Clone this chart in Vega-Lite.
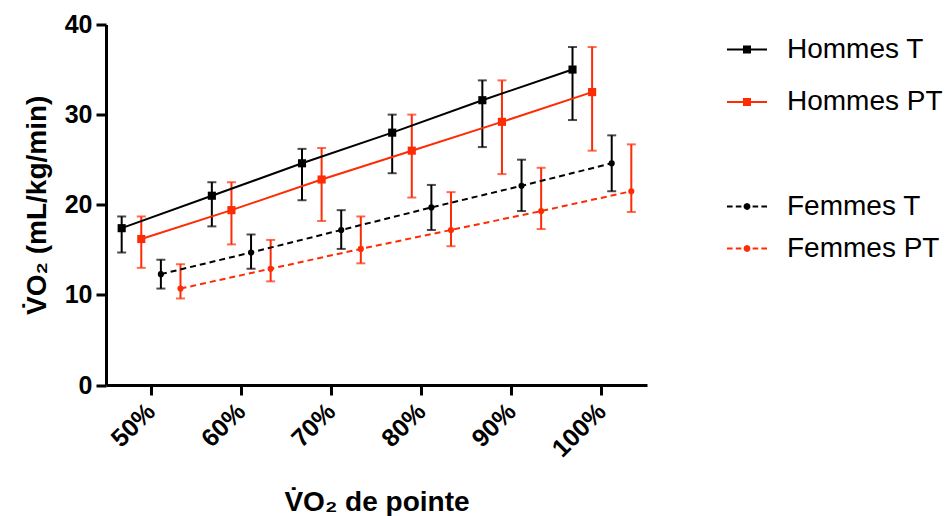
{
  "$schema": "https://vega.github.io/schema/vega-lite/v6.json",
  "width": 541,
  "height": 360.5,
  "autosize": "none",
  "padding": {"left": 106, "top": 24.5, "right": 300, "bottom": 131},
  "background": "white",
  "data": {
    "values": [
      {"level": "50%", "group": "Hommes T", "sex": "H", "mean": 17.4, "low": 14.7, "high": 18.7},
      {"level": "60%", "group": "Hommes T", "sex": "H", "mean": 21.0, "low": 17.6, "high": 22.5},
      {"level": "70%", "group": "Hommes T", "sex": "H", "mean": 24.6, "low": 20.5, "high": 26.2},
      {"level": "80%", "group": "Hommes T", "sex": "H", "mean": 28.0, "low": 23.5, "high": 30.0},
      {"level": "90%", "group": "Hommes T", "sex": "H", "mean": 31.6, "low": 26.4, "high": 33.8},
      {"level": "100%", "group": "Hommes T", "sex": "H", "mean": 35.0, "low": 29.4, "high": 37.5},
      {"level": "50%", "group": "Hommes PT", "sex": "H", "mean": 16.2, "low": 13.0, "high": 18.7},
      {"level": "60%", "group": "Hommes PT", "sex": "H", "mean": 19.4, "low": 15.6, "high": 22.5},
      {"level": "70%", "group": "Hommes PT", "sex": "H", "mean": 22.8, "low": 18.2, "high": 26.3},
      {"level": "80%", "group": "Hommes PT", "sex": "H", "mean": 26.0, "low": 20.8, "high": 30.0},
      {"level": "90%", "group": "Hommes PT", "sex": "H", "mean": 29.2, "low": 23.4, "high": 33.8},
      {"level": "100%", "group": "Hommes PT", "sex": "H", "mean": 32.5, "low": 26.0, "high": 37.5},
      {"level": "50%", "group": "Femmes T", "sex": "F", "mean": 12.3, "low": 10.7, "high": 13.9},
      {"level": "60%", "group": "Femmes T", "sex": "F", "mean": 14.7, "low": 12.9, "high": 16.7},
      {"level": "70%", "group": "Femmes T", "sex": "F", "mean": 17.2, "low": 15.1, "high": 19.4},
      {"level": "80%", "group": "Femmes T", "sex": "F", "mean": 19.7, "low": 17.2, "high": 22.2},
      {"level": "90%", "group": "Femmes T", "sex": "F", "mean": 22.1, "low": 19.3, "high": 25.0},
      {"level": "100%", "group": "Femmes T", "sex": "F", "mean": 24.6, "low": 21.5, "high": 27.7},
      {"level": "50%", "group": "Femmes PT", "sex": "F", "mean": 10.7, "low": 9.6, "high": 13.4},
      {"level": "60%", "group": "Femmes PT", "sex": "F", "mean": 12.9, "low": 11.5, "high": 16.1},
      {"level": "70%", "group": "Femmes PT", "sex": "F", "mean": 15.1, "low": 13.5, "high": 18.7},
      {"level": "80%", "group": "Femmes PT", "sex": "F", "mean": 17.2, "low": 15.4, "high": 21.4},
      {"level": "90%", "group": "Femmes PT", "sex": "F", "mean": 19.3, "low": 17.3, "high": 24.1},
      {"level": "100%", "group": "Femmes PT", "sex": "F", "mean": 21.5, "low": 19.2, "high": 26.7}
    ]
  },
  "encoding": {
    "x": {
      "field": "level",
      "type": "ordinal",
      "sort": ["50%", "60%", "70%", "80%", "90%", "100%"],
      "scale": {"paddingInner": 0, "paddingOuter": 0},
      "axis": {
        "title": "V̇O₂ de pointe",
        "labelAngle": -45,
        "labelAlign": "right",
        "labelBaseline": "middle",
        "labelPadding": 12,
        "titlePadding": 27
      }
    },
    "xOffset": {
      "field": "group",
      "type": "nominal",
      "scale": {
        "domain": ["Hommes T", "Hommes PT", "Femmes T", "Femmes PT"],
        "paddingInner": 0,
        "paddingOuter": 0.3
      }
    }
  },
  "layer": [
    {
      "transform": [{"filter": {"field": "sex", "equal": "H"}}],
      "encoding": {
        "color": {
          "field": "group",
          "type": "nominal",
          "scale": {"domain": ["Hommes T", "Hommes PT"], "range": ["#000000", "#fd2c05"]},
          "legend": {
            "title": null,
            "orient": "right",
            "offset": 75,
            "padding": 4,
            "rowPadding": 17.5,
            "symbolType": "M-1,0L1,0M-0.15,-0.15L0.15,-0.15L0.15,0.15L-0.15,0.15Z",
            "symbolSize": 1600,
            "symbolStrokeWidth": 2,
            "labelOffset": 19,
            "encode": {
              "symbols": {
                "update": {
                  "stroke": {"signal": "indexof(datum.value, 'PT') >= 0 ? '#fd2c05' : '#000000'"},
                  "fill": {"signal": "indexof(datum.value, 'PT') >= 0 ? '#fd2c05' : '#000000'"},
                  "opacity": {"value": 1}
                }
              }
            }
          }
        }
      },
      "layer": [
        {"mark": {"type": "rule", "strokeWidth": 2}, "encoding": {"y": {"field": "low", "type": "quantitative", "title": "V̇O₂ (mL/kg/min)", "scale": {"domain": [0, 40]}}, "y2": {"field": "high"}}},
        {"mark": {"type": "tick", "thickness": 2, "size": 9, "orient": "horizontal"}, "encoding": {"y": {"field": "low", "type": "quantitative", "title": "V̇O₂ (mL/kg/min)"}}},
        {"mark": {"type": "tick", "thickness": 2, "size": 9, "orient": "horizontal"}, "encoding": {"y": {"field": "high", "type": "quantitative", "title": "V̇O₂ (mL/kg/min)"}}},
        {"mark": {"type": "line", "strokeWidth": 2}, "encoding": {"y": {"field": "mean", "type": "quantitative", "title": "V̇O₂ (mL/kg/min)"}}},
        {"mark": {"type": "point", "shape": "square", "filled": true, "size": 66, "opacity": 1}, "encoding": {"y": {"field": "mean", "type": "quantitative", "title": "V̇O₂ (mL/kg/min)"}}}
      ]
    },
    {
      "transform": [{"filter": {"field": "sex", "equal": "F"}}],
      "encoding": {
        "color": {
          "field": "group",
          "type": "nominal",
          "scale": {"domain": ["Femmes T", "Femmes PT"], "range": ["#000000", "#fd2c05"]},
          "legend": {
            "title": " ",
            "titleFontSize": 28,
            "titlePadding": 25,
            "orient": "right",
            "offset": 75,
            "padding": 4,
            "rowPadding": 7,
            "symbolType": "M-1,0L-0.72,0M-0.56,0L-0.28,0M0.28,0L0.56,0M0.72,0L1,0M0.12,0A0.12,0.12,0,1,1,-0.12,0A0.12,0.12,0,1,1,0.12,0Z",
            "symbolSize": 1600,
            "symbolStrokeWidth": 2,
            "labelOffset": 19,
            "encode": {
              "symbols": {
                "update": {
                  "stroke": {"signal": "indexof(datum.value, 'PT') >= 0 ? '#fd2c05' : '#000000'"},
                  "fill": {"signal": "indexof(datum.value, 'PT') >= 0 ? '#fd2c05' : '#000000'"},
                  "strokeDash": {"value": [1, 0]},
                  "opacity": {"value": 1}
                }
              }
            }
          }
        }
      },
      "layer": [
        {"mark": {"type": "rule", "strokeWidth": 2}, "encoding": {"y": {"field": "low", "type": "quantitative", "title": "V̇O₂ (mL/kg/min)"}, "y2": {"field": "high"}}},
        {"mark": {"type": "tick", "thickness": 2, "size": 9, "orient": "horizontal"}, "encoding": {"y": {"field": "low", "type": "quantitative", "title": "V̇O₂ (mL/kg/min)"}}},
        {"mark": {"type": "tick", "thickness": 2, "size": 9, "orient": "horizontal"}, "encoding": {"y": {"field": "high", "type": "quantitative", "title": "V̇O₂ (mL/kg/min)"}}},
        {"mark": {"type": "line", "strokeWidth": 2, "strokeDash": [6, 4]}, "encoding": {"y": {"field": "mean", "type": "quantitative", "title": "V̇O₂ (mL/kg/min)"}}},
        {"mark": {"type": "point", "shape": "circle", "filled": true, "size": 38, "opacity": 1}, "encoding": {"y": {"field": "mean", "type": "quantitative", "title": "V̇O₂ (mL/kg/min)"}}}
      ]
    }
  ],
  "resolve": {"scale": {"color": "independent"}},
  "config": {
    "view": {"stroke": null},
    "font": "Liberation Sans",
    "axis": {
      "domainColor": "#000000",
      "domainWidth": 3,
      "tickColor": "#000000",
      "tickWidth": 3,
      "tickSize": 10,
      "grid": false,
      "labelFont": "Liberation Sans",
      "labelFontWeight": "bold",
      "labelFontSize": 25,
      "labelColor": "#000000",
      "titleFont": "Liberation Sans",
      "titleFontWeight": "bold",
      "titleFontSize": 28,
      "titleColor": "#000000"
    },
    "axisY": {
      "tickCount": 4,
      "labelPadding": 4,
      "titlePadding": 13
    },
    "legend": {
      "labelFont": "Liberation Sans",
      "labelFontSize": 28,
      "labelColor": "#000000",
      "labelFontWeight": "normal"
    }
  }
}
